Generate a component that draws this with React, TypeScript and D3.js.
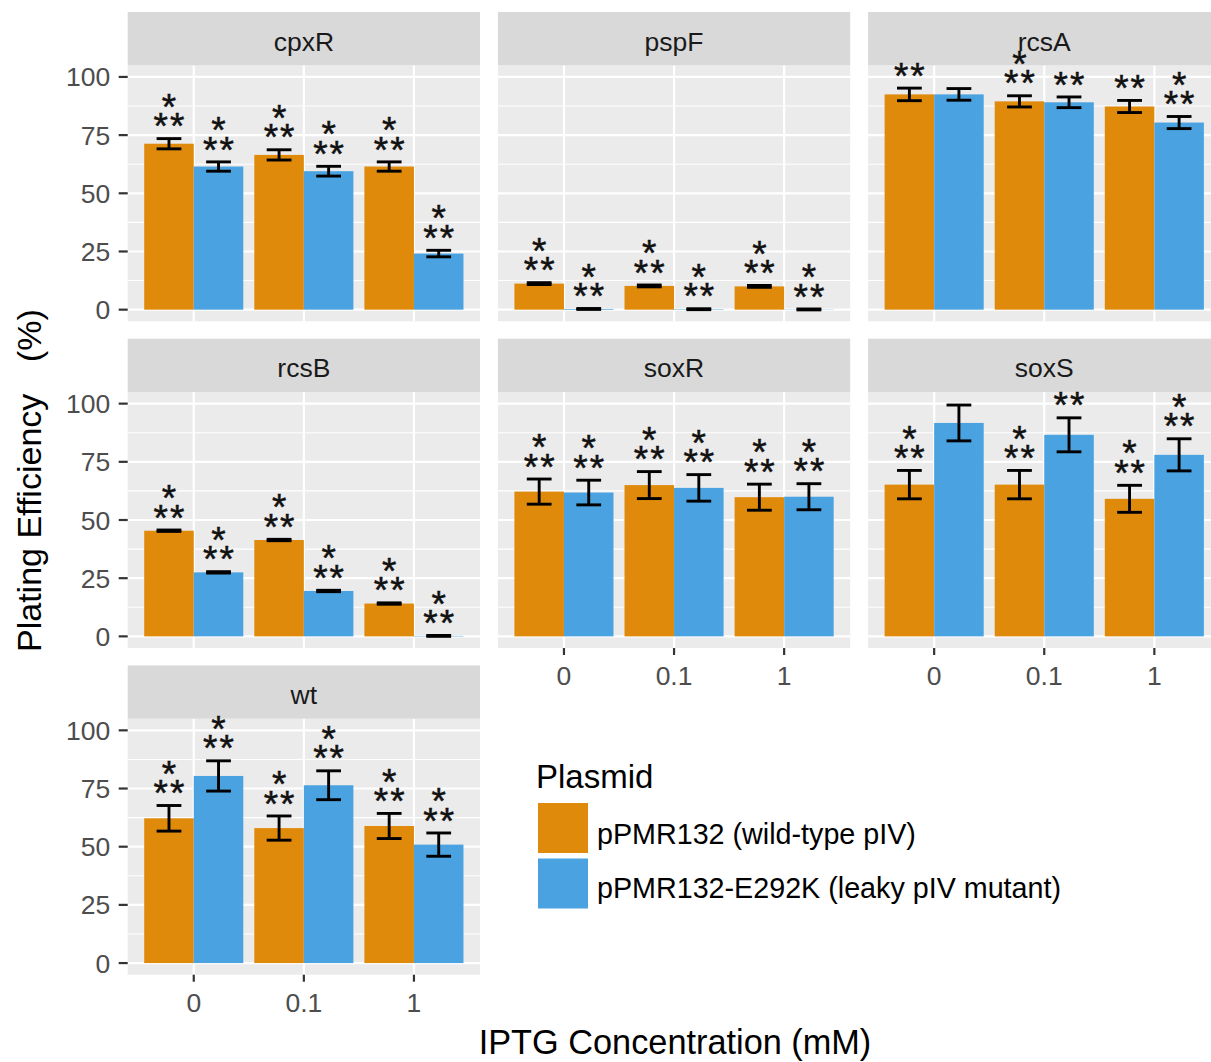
import React from "react";
import * as d3 from "d3";

// ---------- data ----------
const concentrations = ["0", "0.1", "1"];
const plasmids = ["pPMR132 (wild-type pIV)", "pPMR132-E292K (leaky pIV mutant)"];
const strains = ["cpxR", "pspF", "rcsA", "rcsB", "soxR", "soxS", "wt"];
const yTicks = [0, 25, 50, 75, 100];
const yMinorTicks = [12.5, 37.5, 62.5, 87.5];

// order: [0 wild-type, 0 mutant, 0.1 wild-type, 0.1 mutant, 1 wild-type, 1 mutant]
const cpxRMean = [71.3, 61.5, 66.5, 59.5, 61.5, 24.1];
const cpxRErr = [2.2, 2.0, 2.2, 2.1, 2.0, 1.4];
const cpxRSig = ["*|**", "*|**", "*|**", "*|**", "*|**", "*|**"];

const pspFMean = [11.2, 0.3, 10.2, 0.2, 10.0, 0.1];
const pspFErr = [0.4, 0.2, 0.4, 0.2, 0.4, 0.2];
const pspFSig = ["*|**", "*|**", "*|**", "*|**", "*|**", "*|**"];

const rcsAMean = [92.5, 92.5, 89.5, 89.1, 87.3, 80.4];
const rcsAErr = [2.7, 2.5, 2.4, 2.3, 2.6, 2.6];
const rcsASig = ["**", "", "*|**", "**", "**", "*|**"];

const rcsBMean = [45.4, 27.5, 41.4, 19.5, 14.1, 0.2];
const rcsBErr = [0.3, 0.3, 0.3, 0.3, 0.3, 0.2];
const rcsBSig = ["*|**", "*|**", "*|**", "*|**", "*|**", "*|**"];

const soxRMean = [62.2, 61.8, 65.0, 63.8, 59.8, 60.0];
const soxRErr = [5.4, 5.3, 5.8, 5.7, 5.6, 5.6];
const soxRSig = ["*|**", "*|**", "*|**", "*|**", "*|**", "*|**"];

const soxSMean = [65.2, 91.7, 65.2, 86.6, 59.1, 78.0];
const soxSErr = [6.1, 7.7, 6.1, 7.3, 5.8, 6.9];
const soxSSig = ["*|**", "", "*|**", "**", "*|**", "*|**"];

const wtMean = [62.2, 80.4, 58.0, 76.4, 58.9, 50.9];
const wtErr = [5.5, 6.5, 5.2, 6.2, 5.4, 5.0];
const wtSig = ["*|**", "*|**", "*|**", "*|**", "*|**", "*|**"];

const means = [cpxRMean, pspFMean, rcsAMean, rcsBMean, soxRMean, soxSMean, wtMean];
const errs = [cpxRErr, pspFErr, rcsAErr, rcsBErr, soxRErr, soxSErr, wtErr];
const sigs = [cpxRSig, pspFSig, rcsASig, rcsBSig, soxRSig, soxSSig, wtSig];

// ---------- style / layout ----------
const W = 1211;
const H = 1062;
const FONT = "'Liberation Sans', Arial, Helvetica, sans-serif";
const fillColors = ["#E08A0B", "#4AA3E0"];
const colLeft0 = 127.7;
const colStep = 370.2;
const panelW = 352.3;
const rowTop0 = 12;
const rowStep = 326.7;
const stripH = 53.3;
const panelH = 256;
const NCOL = 3;
const starSize = 37;

function Panel({ idx }: { idx: number }) {
  const row = Math.floor(idx / NCOL);
  const col = idx % NCOL;
  const left = colLeft0 + col * colStep;
  const stripTop = rowTop0 + row * rowStep;
  const top = stripTop + stripH;
  const bottom = top + panelH;
  const hasX = idx + NCOL >= strains.length;
  const hasY = col === 0;

  const y = d3.scaleLinear().domain([-5, 105]).range([bottom, top]);
  const x = d3
    .scaleBand<string>()
    .domain(concentrations)
    .range([left, left + panelW])
    .paddingInner(0.1)
    .paddingOuter(0.15);
  const xi = d3.scaleBand<string>().domain(plasmids).range([0, x.bandwidth()]);
  const center = (c: string) => (x(c) as number) + x.bandwidth() / 2;
  const capW = (x.step() * 0.225) / 2;

  const bars = [] as any[];
  concentrations.forEach((c, ci) => {
    plasmids.forEach((p, pi) => {
      const k = ci * 2 + pi;
      bars.push({ c, p, pi, v: means[idx][k], e: errs[idx][k], s: sigs[idx][k] });
    });
  });

  return (
    <g>
      <rect x={left} y={top} width={panelW} height={panelH} fill="#EBEBEB" />
      {yMinorTicks.map((t) => (
        <line key={"mn" + t} x1={left} x2={left + panelW} y1={y(t)} y2={y(t)} stroke="#FFFFFF" strokeWidth={1.1} />
      ))}
      {yTicks.map((t) => (
        <line key={"mj" + t} x1={left} x2={left + panelW} y1={y(t)} y2={y(t)} stroke="#FFFFFF" strokeWidth={2.2} />
      ))}
      {concentrations.map((c) => (
        <line key={"vx" + c} x1={center(c)} x2={center(c)} y1={top} y2={bottom} stroke="#FFFFFF" strokeWidth={2.2} />
      ))}
      {bars.map((b, i) => {
        const bx = (x(b.c) as number) + (xi(b.p) as number);
        return (
          <rect
            key={"b" + i}
            x={bx}
            y={y(b.v)}
            width={xi.bandwidth()}
            height={y(0) - y(b.v)}
            fill={fillColors[b.pi]}
          />
        );
      })}
      {bars.map((b, i) => {
        const cx = (x(b.c) as number) + (xi(b.p) as number) + xi.bandwidth() / 2;
        const yt = y(b.v + b.e);
        const yb = y(b.v - b.e);
        return (
          <g key={"e" + i} stroke="#000" strokeWidth={2.9}>
            <line x1={cx} x2={cx} y1={yt} y2={yb} />
            <line x1={cx - capW} x2={cx + capW} y1={yt} y2={yt} />
            <line x1={cx - capW} x2={cx + capW} y1={yb} y2={yb} />
          </g>
        );
      })}
      <rect x={left} y={stripTop} width={panelW} height={stripH} fill="#D9D9D9" />
      <text
        x={left + panelW / 2}
        y={stripTop + 38.5}
        textAnchor="middle"
        fontFamily={FONT}
        fontSize={26.5}
        fill="#1A1A1A"
      >
        {strains[idx]}
      </text>
      {hasY &&
        yTicks.map((t) => (
          <g key={"yt" + t}>
            <line x1={left - 9} x2={left} y1={y(t)} y2={y(t)} stroke="#333333" strokeWidth={2.2} />
            <text
              x={left - 17.5}
              y={y(t)}
              dy="0.36em"
              textAnchor="end"
              fontFamily={FONT}
              fontSize={26.5}
              fill="#4D4D4D"
            >
              {t}
            </text>
          </g>
        ))}
      {hasX &&
        concentrations.map((c) => (
          <g key={"xt" + c}>
            <line x1={center(c)} x2={center(c)} y1={bottom} y2={bottom + 7} stroke="#333333" strokeWidth={2.2} />
            <text x={center(c)} y={bottom + 37} textAnchor="middle" fontFamily={FONT} fontSize={26.5} fill="#4D4D4D">
              {c}
            </text>
          </g>
        ))}
      {bars.map((b, i) => {
        if (!b.s) return null;
        const cx = (x(b.c) as number) + (xi(b.p) as number) + xi.bandwidth() / 2;
        const yt = y(b.v + b.e);
        const lines = b.s.split("|");
        const n = lines.length;
        return (
          <text
            key={"s" + i}
            fontFamily={FONT}
            fontSize={starSize}
            textAnchor="middle"
            fill="#111"
            stroke="#111"
            strokeWidth={0.5}
          >
            {lines.map((ln: string, li: number) => (
              <tspan
                key={li}
                x={cx + (ln.length > 1 ? 1 : 0)}
                y={yt - 21 - (n - 1 - li) * 19.5 + starSize * 0.585}
                letterSpacing={ln.length > 1 ? 2 : 0}
              >
                {ln}
              </tspan>
            ))}
          </text>
        );
      })}
    </g>
  );
}

export default function App() {
  return (
    <svg
      width={W}
      height={H}
      viewBox={`0 0 ${W} ${H}`}
      style={{ position: "absolute", left: 0, top: 0, background: "#FFFFFF" }}
    >
      <rect x={0} y={0} width={W} height={H} fill="#FFFFFF" />
      {strains.map((s, i) => (
        <Panel key={s} idx={i} />
      ))}
      <text x={675} y={1054} textAnchor="middle" fontFamily={FONT} fontSize={34.3} fill="#000">
        IPTG Concentration (mM)
      </text>
      <text transform="translate(41,652) rotate(-90)" textAnchor="start" fontFamily={FONT} fontSize={34} fill="#000">
        Plating Efficiency
      </text>
      <text transform="translate(41,362) rotate(-90)" textAnchor="start" fontFamily={FONT} fontSize={34} fill="#000">
        (%)
      </text>
      <text x={536} y={788} fontFamily={FONT} fontSize={33} fill="#000">
        Plasmid
      </text>
      {plasmids.map((p, i) => (
        <g key={p}>
          <rect x={538} y={803 + i * 55.5} width={50} height={50} fill={fillColors[i]} />
          <text x={597} y={843.5 + i * 54} fontFamily={FONT} fontSize={28.7} fill="#000">
            {p}
          </text>
        </g>
      ))}
    </svg>
  );
}
